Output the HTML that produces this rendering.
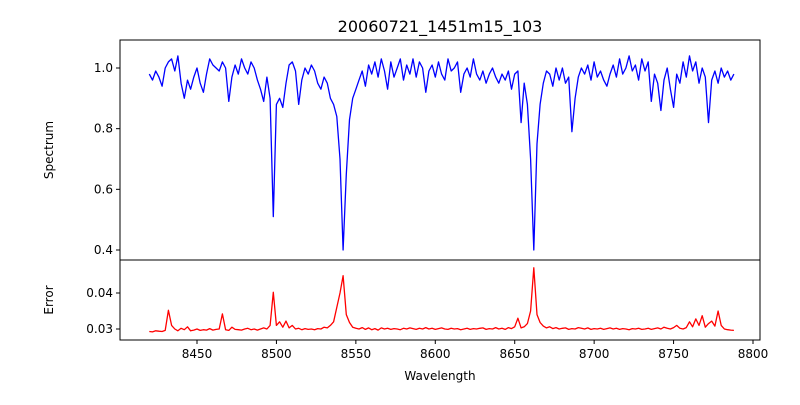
<!DOCTYPE html>
<html><head><meta charset="utf-8"><style>
body{margin:0;background:#fff;font-family:"Liberation Sans",sans-serif}
svg text{font-family:"DejaVu Sans","Liberation Sans",sans-serif;font-size:12px}
</style></head><body>
<svg id="c" width="800" height="400" xmlns="http://www.w3.org/2000/svg">
<rect width="800" height="400" fill="#fff"/>
<text x="440" y="32" text-anchor="middle" style="font-size:16px">20060721_1451m15_103</text>
<g id="topPanel"></g>
<g id="botPanel"></g>
<text x="440" y="380" text-anchor="middle">Wavelength</text>
<text transform="translate(53,150) rotate(-90)" text-anchor="middle">Spectrum</text>
<text transform="translate(53,300) rotate(-90)" text-anchor="middle">Error</text>
</svg>
<script>
const wlStart = 8420, wlStep = 2;
const flux = [
0.98,0.96,0.99,0.97,0.94,1.00,1.02,1.03,0.99,1.04,
0.95,0.90,0.96,0.93,0.97,1.00,0.95,0.92,0.98,1.03,
1.01,1.00,0.99,1.02,1.00,0.89,0.97,1.01,0.98,1.03,
1.00,0.98,1.02,1.00,0.96,0.93,0.89,0.97,0.90,0.51,
0.88,0.90,0.87,0.95,1.01,1.02,0.99,0.88,0.96,1.00,
0.98,1.01,0.99,0.95,0.93,0.97,0.95,0.90,0.88,0.84,
0.70,0.40,0.65,0.83,0.90,0.93,0.96,0.99,0.94,1.01,
0.98,1.02,0.97,1.03,0.99,0.93,1.02,0.97,1.00,1.03,
0.96,1.01,0.98,1.03,0.97,1.02,1.00,0.92,0.99,1.01,
0.97,1.02,0.98,0.96,1.03,0.99,1.00,1.02,0.92,0.98,
1.00,0.97,1.03,0.98,0.96,0.99,0.95,0.98,1.00,0.97,
0.95,0.98,0.96,0.99,0.93,0.98,0.99,0.82,0.95,0.88,
0.70,0.40,0.75,0.88,0.95,0.99,0.98,0.94,1.00,0.96,
1.00,0.95,0.97,0.79,0.90,0.97,1.00,0.98,1.01,0.96,
1.02,0.97,0.99,0.96,0.94,0.98,1.01,0.97,1.03,0.98,
1.00,1.04,0.99,1.01,0.96,1.03,0.99,1.02,0.89,0.98,
0.95,0.86,0.96,1.00,0.93,0.87,0.98,0.95,1.02,0.97,
1.04,0.99,1.02,0.95,1.00,0.97,0.82,0.96,0.99,0.95,
1.00,0.97,0.99,0.96,0.98];
const err = [
0.0293,0.0292,0.0295,0.0294,0.0293,0.0296,0.0352,0.0310,0.0300,0.0295,
0.0302,0.0298,0.0306,0.0295,0.0297,0.0300,0.0296,0.0298,0.0297,0.0301,
0.0297,0.0299,0.0300,0.0342,0.0298,0.0296,0.0305,0.0299,0.0298,0.0297,
0.0300,0.0302,0.0298,0.0300,0.0297,0.0300,0.0303,0.0300,0.0310,0.0402,
0.0310,0.0320,0.0305,0.0322,0.0303,0.0310,0.0300,0.0302,0.0298,0.0301,
0.0299,0.0300,0.0298,0.0301,0.0300,0.0305,0.0303,0.0310,0.0320,0.0360,
0.0400,0.0448,0.0340,0.0318,0.0305,0.0302,0.0300,0.0304,0.0299,0.0303,
0.0298,0.0301,0.0297,0.0303,0.0300,0.0302,0.0299,0.0301,0.0300,0.0298,
0.0302,0.0300,0.0303,0.0301,0.0299,0.0302,0.0300,0.0304,0.0300,0.0302,
0.0299,0.0301,0.0303,0.0300,0.0299,0.0302,0.0300,0.0301,0.0298,0.0300,
0.0302,0.0299,0.0301,0.0300,0.0302,0.0303,0.0299,0.0301,0.0300,0.0304,
0.0300,0.0302,0.0299,0.0304,0.0301,0.0306,0.0330,0.0303,0.0306,0.0315,
0.0350,0.0470,0.0340,0.0318,0.0308,0.0303,0.0306,0.0301,0.0304,0.0300,
0.0302,0.0303,0.0299,0.0301,0.0300,0.0304,0.0302,0.0300,0.0303,0.0299,
0.0301,0.0300,0.0302,0.0299,0.0301,0.0303,0.0300,0.0302,0.0299,0.0301,
0.0300,0.0298,0.0301,0.0300,0.0302,0.0299,0.0300,0.0302,0.0299,0.0301,
0.0303,0.0300,0.0305,0.0302,0.0300,0.0304,0.0310,0.0302,0.0300,0.0304,
0.0320,0.0306,0.0328,0.0310,0.0337,0.0305,0.0315,0.0322,0.0308,0.0350,
0.0310,0.0300,0.0298,0.0297,0.0296];
const xTicks = [8450,8500,8550,8600,8650,8700,8750,8800];
const fluxTicks = [0.4,0.6,0.8,1.0];
const errTicks = [0.03,0.04];

const NS="http://www.w3.org/2000/svg";
const L=120,R=760,T1=40,B1=260,T2=260,B2=340;
const xs=w=>197+(w-8450)*(556/350);
const y1=v=>68+(1.0-v)*(182/0.6);
const y2=v=>329-(v-0.03)*3600;
function mk(tag,attrs,parent){const e=document.createElementNS(NS,tag);for(const k in attrs)e.setAttribute(k,attrs[k]);parent.appendChild(e);return e;}
const topG=document.getElementById('topPanel'),botG=document.getElementById('botPanel');
function panel(g,t,b,data,ys,color,ticks,fmt,name,showX){
  const pts=data.map((v,i)=>xs(wlStart+i*wlStep).toFixed(1)+','+ys(v).toFixed(1)).join(' ');
  const pl=mk('polyline',{points:pts,fill:'none',stroke:color,'stroke-width':1.3,'stroke-linejoin':'round'},g);
  
  
  mk('rect',{x:L,y:t,width:R-L,height:b-t,fill:'none',stroke:'#000','stroke-width':1},g);
  ticks.forEach(v=>{const y=ys(v);
    mk('line',{x1:L-4,x2:L,y1:y,y2:y,stroke:'#000'},g);
    const tx=mk('text',{x:L-7,y:y+4,'text-anchor':'end'},g);tx.textContent=fmt(v);
    
    
  });
  if(showX) xTicks.forEach(w=>{const x=xs(w);
    mk('line',{x1:x,x2:x,y1:b,y2:b+4,stroke:'#000'},g);
    const tx=mk('text',{x:x,y:b+18,'text-anchor':'middle'},g);tx.textContent=w;
    
    
  });
}
panel(topG,T1,B1,flux,y1,'#0000ff',fluxTicks,v=>v.toFixed(1),'spectrum-line',false);
panel(botG,T2,B2,err,y2,'#ff0000',errTicks,v=>v.toFixed(2),'error-line',true);
</script>
</body></html>
